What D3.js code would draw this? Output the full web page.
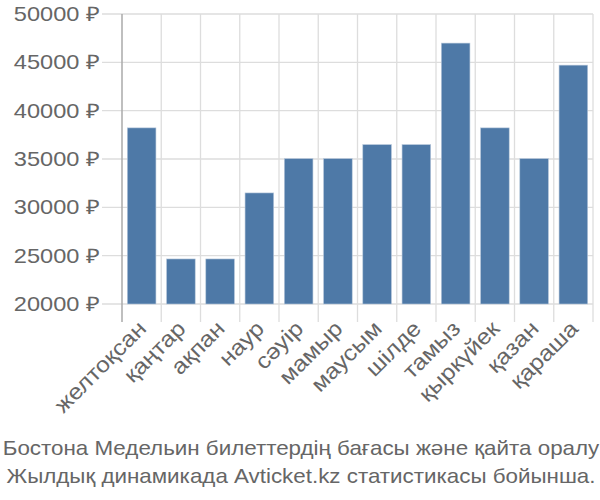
<!DOCTYPE html>
<html><head><meta charset="utf-8">
<script src="https://cdn.jsdelivr.net/npm/d3@7"></script>
<style>body{margin:0;background:#fff}text{font-family:"Liberation Sans",Arial,sans-serif}</style>
</head><body><svg id="c" width="600" height="500"></svg>
<script>
const categories = ["желтоқсан","қаңтар","ақпан","наур","сәуір","мамыр","маусым","шілде","тамыз","қыркүйек","қазан","қараша"];
const values = [38220,24660,24660,31490,35040,35040,36490,36490,46990,38220,35040,44710];
const yTicks = [20000,25000,30000,35000,40000,45000,50000];
const titleLines = ["Бостона Медельин билеттердің бағасы және қайта оралу","Жылдық динамикада Avticket.kz статистикасы бойынша."];

const svg = d3.select("#c");
const L=122,R=593,T=14,B=304;
const x = d3.scaleBand().domain(categories).range([L,R]).paddingInner(0.27).paddingOuter(0.135);
const xg = d3.scaleBand().domain(categories).range([L,R]);
const y = d3.scaleLinear().domain([20000,50000]).range([B,T]);

// horizontal grid
svg.append("g").selectAll("line").data(yTicks).join("line")
  .attr("x1",102).attr("x2",R).attr("y1",d=>y(d)).attr("y2",d=>y(d))
  .attr("stroke","#ddd").attr("stroke-width",1.3);
// vertical grid
const vx = categories.map(c=>xg(c)).concat([R]);
svg.append("g").selectAll("line").data(vx.slice(1)).join("line")
  .attr("x1",d=>d).attr("x2",d=>d).attr("y1",T).attr("y2",322)
  .attr("stroke","#ddd").attr("stroke-width",1.3);
// left axis line
svg.append("line").attr("x1",L).attr("x2",L).attr("y1",T).attr("y2",322).attr("stroke","#aaa").attr("stroke-width",1.5);

// bars
svg.append("g").selectAll("rect").data(values).join("rect")
  .attr("x",(d,i)=>x(categories[i])).attr("width",x.bandwidth())
  .attr("y",d=>y(d)).attr("height",d=>B-y(d))
  .attr("fill","#4e79a7").attr("stroke","#b9c9dc").attr("stroke-width",0.6);

// y labels
svg.append("g").selectAll("text").data(yTicks).join("text")
  .attr("transform",d=>`translate(100,${y(d)}) scale(1.18,1)`)
  .attr("dy","0.35em").attr("text-anchor","end")
  .attr("font-size",20).attr("fill","#666").text(d=>d+" ₽");

// x labels
svg.append("g").selectAll("text").data(categories).join("text")
  .attr("text-anchor","end").attr("font-size",22).attr("fill","#666")
  .attr("transform",c=>`translate(${xg(c)+xg.bandwidth()/2+6},${330}) rotate(-45) scale(1.12,1)`)
  .text(c=>c);

// title
svg.append("g").selectAll("text").data(titleLines).join("text")
  .attr("transform",(d,i)=>`translate(301,${455+i*28}) scale(1.066,1)`)
  .attr("text-anchor","middle")
  .attr("font-size",21).attr("fill","#666")
  .text(d=>d);
</script></body></html>
